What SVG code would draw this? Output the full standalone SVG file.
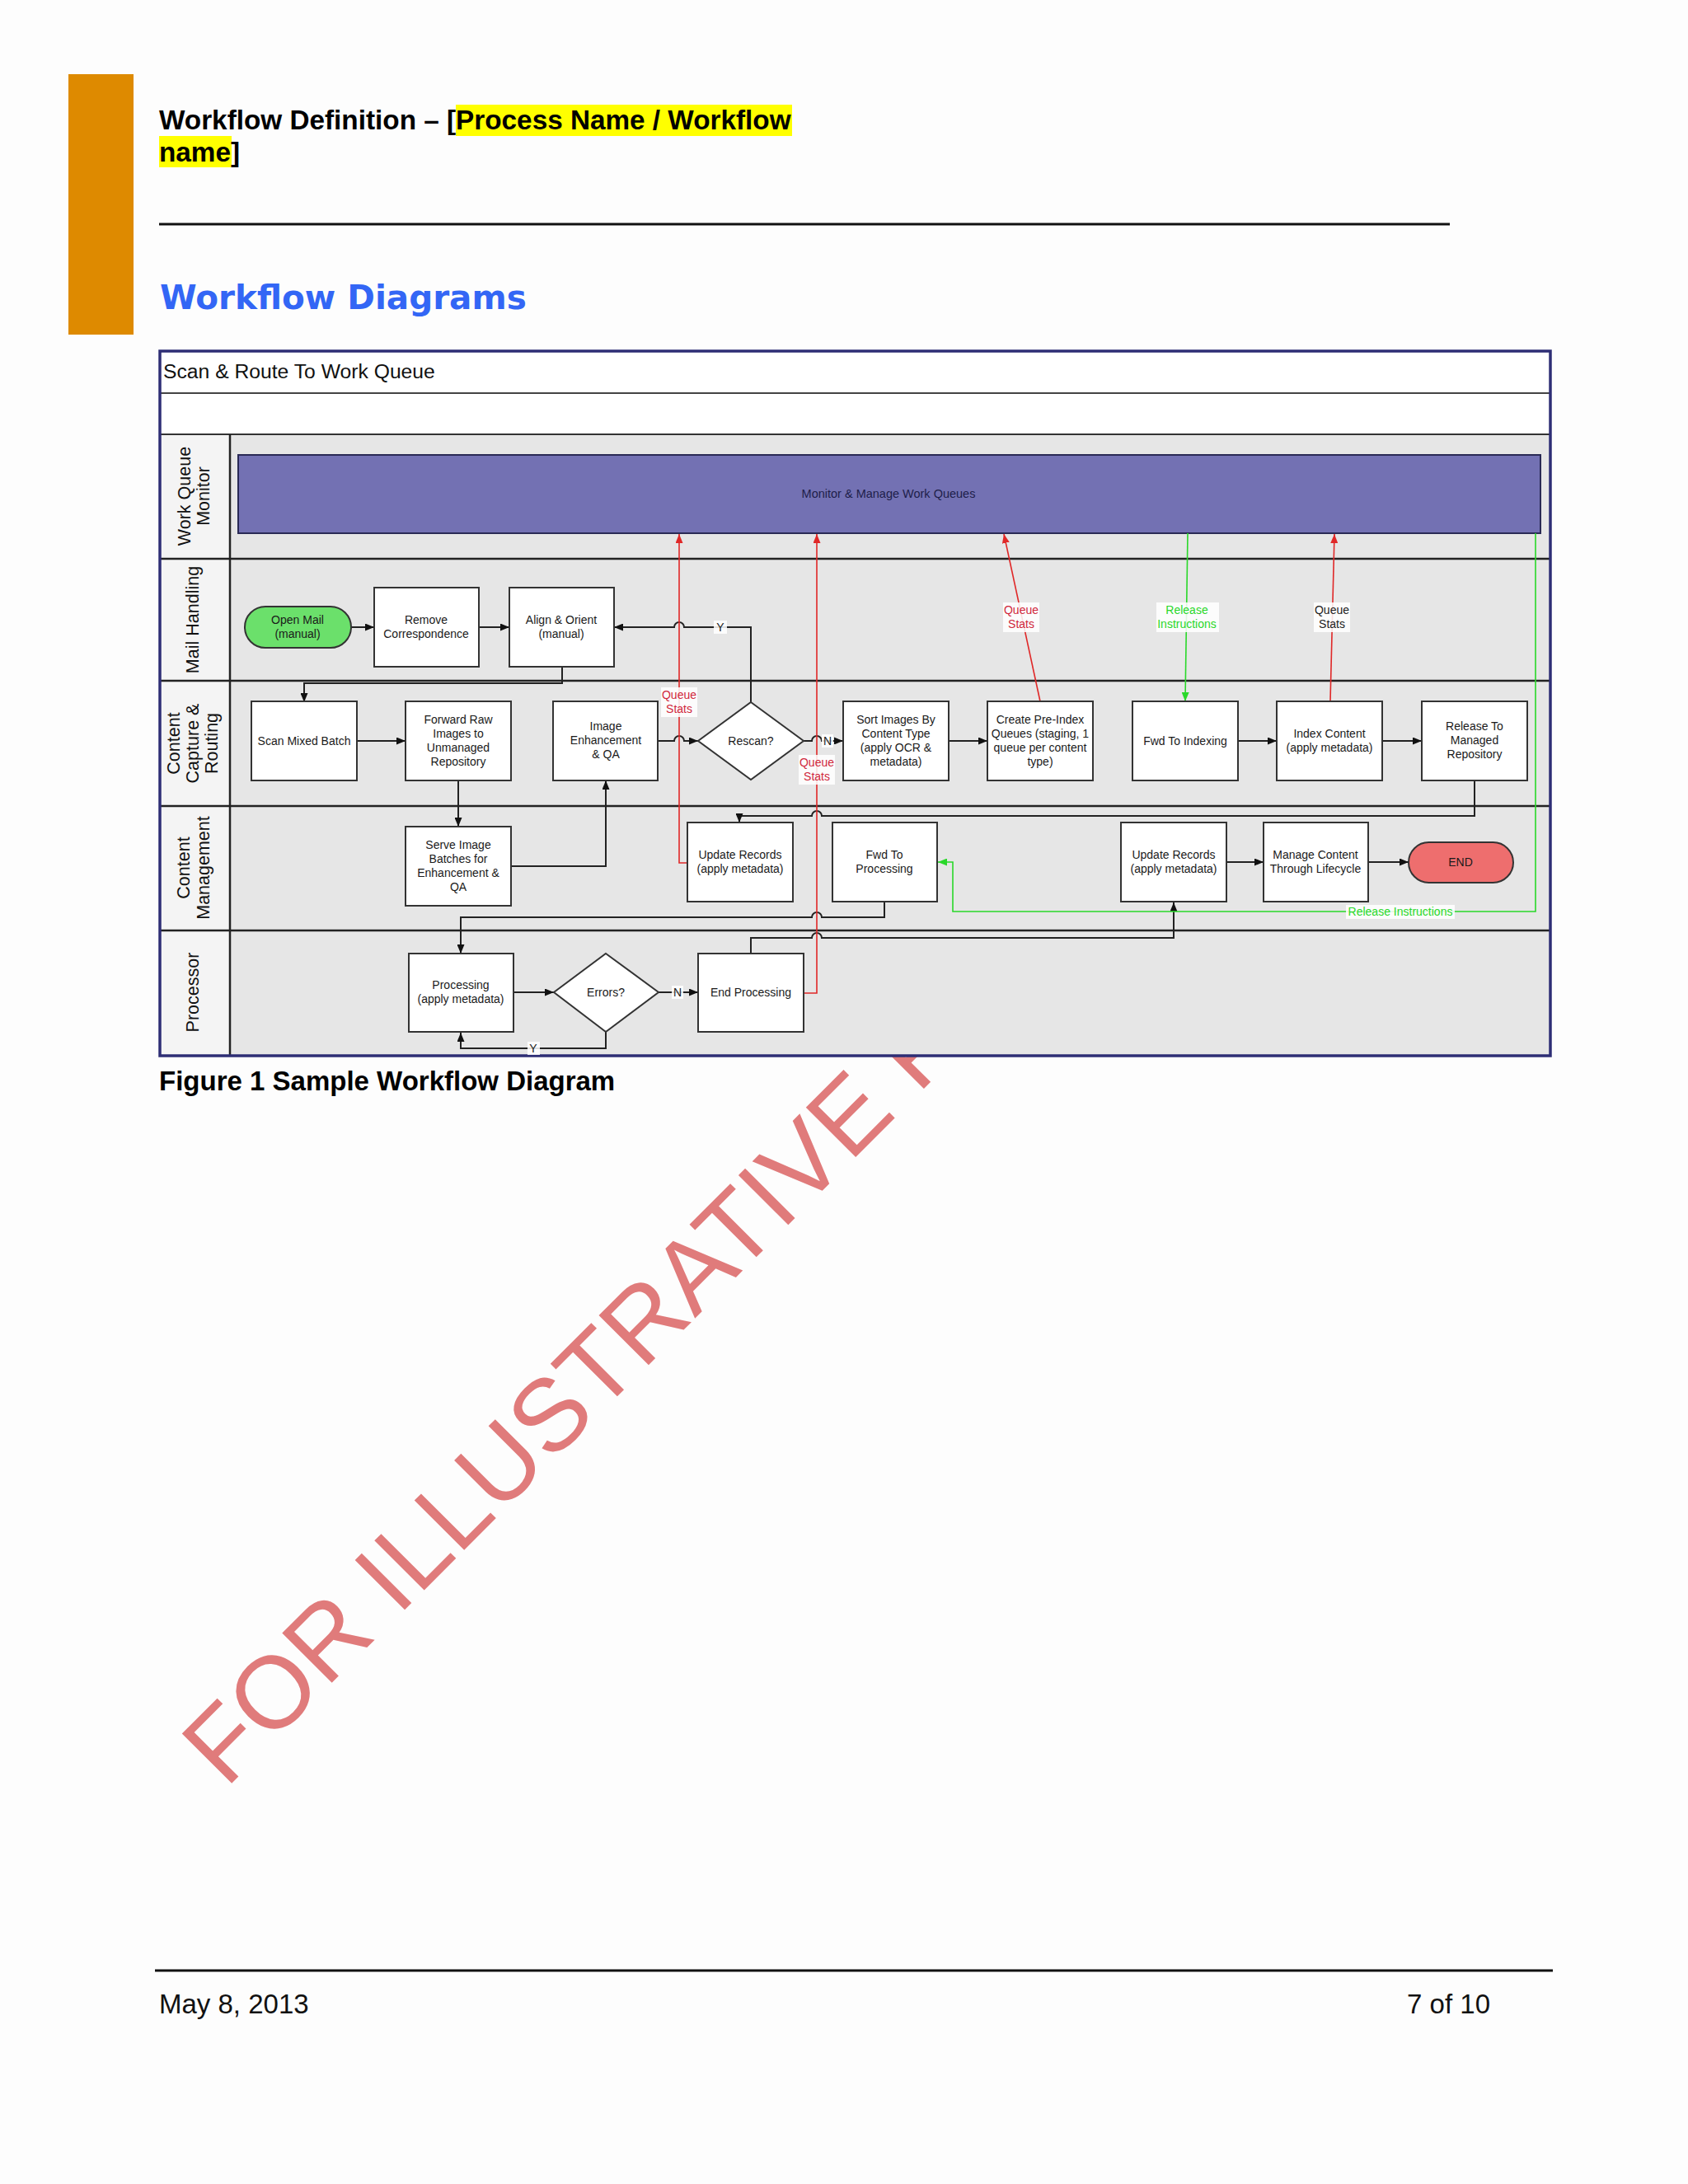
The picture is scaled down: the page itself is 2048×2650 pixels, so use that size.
<svg xmlns="http://www.w3.org/2000/svg" width="2048" height="2650" viewBox="0 0 2048 2650">
<style>
.n{font-family:"Liberation Sans",Arial,sans-serif;font-size:14px;fill:#1a1a1a;text-anchor:middle}
.lane{font-family:"Liberation Sans",Arial,sans-serif;font-size:21.5px;fill:#111;text-anchor:middle}
.box{fill:#fff;stroke:#333;stroke-width:2}
.c{fill:none;stroke:#222;stroke-width:2}
.r{fill:none;stroke:#E02828;stroke-width:1.6}
.g{fill:none;stroke:#2AD82A;stroke-width:1.6}
.rl{font-family:"Liberation Sans",Arial,sans-serif;font-size:14px;fill:#D0283C;text-anchor:middle}
.gl{font-family:"Liberation Sans",Arial,sans-serif;font-size:14px;fill:#2AD82A;text-anchor:middle}
.bl{font-family:"Liberation Sans",Arial,sans-serif;font-size:14px;fill:#222;text-anchor:middle}
.bg{fill:#fff;fill-opacity:0.85}
.sep{stroke:#222;stroke-width:2.5}
</style>
<defs>
<marker id="ab" markerUnits="userSpaceOnUse" markerWidth="11" markerHeight="9" refX="11" refY="4.5" orient="auto"><path d="M0,0 L11,4.5 L0,9 z" fill="#111"/></marker>
<marker id="ar" markerUnits="userSpaceOnUse" markerWidth="11" markerHeight="9" refX="11" refY="4.5" orient="auto"><path d="M0,0 L11,4.5 L0,9 z" fill="#E02828"/></marker>
<marker id="ag" markerUnits="userSpaceOnUse" markerWidth="11" markerHeight="9" refX="11" refY="4.5" orient="auto"><path d="M0,0 L11,4.5 L0,9 z" fill="#2AD82A"/></marker>
</defs>
<rect x="0" y="0" width="2048" height="2650" fill="#fdfdfd"/>

<!-- page header -->
<rect x="83" y="90" width="79" height="316" fill="#DE8A00"/>
<rect x="553" y="127" width="408" height="38" fill="#FFFF00"/>
<rect x="193" y="165" width="88" height="38" fill="#FFFF00"/>
<text x="193" y="157" font-family="'Liberation Sans',Arial,sans-serif" font-size="33.3" font-weight="bold" fill="#000">Workflow Definition – [Process Name / Workflow</text>
<text x="193" y="196" font-family="'Liberation Sans',Arial,sans-serif" font-size="33.3" font-weight="bold" fill="#000">name]</text>
<line x1="193" y1="272" x2="1759" y2="272" stroke="#111" stroke-width="3"/>
<text x="194" y="375" font-family="'DejaVu Sans',Verdana,sans-serif" font-size="40.5" font-weight="bold" fill="#3366F5">Workflow Diagrams</text>

<!-- watermark (behind diagram) -->
<text transform="translate(274,2171) rotate(-45.1)" font-family="'Liberation Sans',Arial,sans-serif" font-size="124" fill="#E07B7B">FOR ILLUSTRATIVE P</text>

<!-- diagram frame and lanes -->
<g id="frame">
<rect x="194" y="426" width="1687" height="855" fill="#fff"/>
<rect x="279" y="527" width="1602" height="753" fill="#E6E6E6"/>
<rect x="196" y="527" width="83" height="753" fill="#F4F4F4"/>
<line x1="194" y1="477" x2="1881" y2="477" stroke="#444" stroke-width="2"/>
<line x1="194" y1="527" x2="1881" y2="527" stroke="#333" stroke-width="2"/>
<line class="sep" x1="194" y1="678" x2="1881" y2="678"/>
<line class="sep" x1="194" y1="826" x2="1881" y2="826"/>
<line class="sep" x1="194" y1="978" x2="1881" y2="978"/>
<line class="sep" x1="194" y1="1129" x2="1881" y2="1129"/>
<line class="sep" x1="279" y1="527" x2="279" y2="1280"/>
<rect x="194" y="426" width="1687" height="855" fill="none" stroke="#2E2E75" stroke-width="3.5"/>
<text x="198" y="459" font-family="'Liberation Sans',Arial,sans-serif" font-size="24.7" fill="#111">Scan &amp; Route To Work Queue</text>
<text class="lane" transform="translate(231,602) rotate(-90)">Work Queue</text>
<text class="lane" transform="translate(254,602) rotate(-90)">Monitor</text>
<text class="lane" transform="translate(241,752) rotate(-90)">Mail Handling</text>
<text class="lane" transform="translate(218,902) rotate(-90)">Content</text>
<text class="lane" transform="translate(241,902) rotate(-90)">Capture &amp;</text>
<text class="lane" transform="translate(264,902) rotate(-90)">Routing</text>
<text class="lane" transform="translate(230,1053) rotate(-90)">Content</text>
<text class="lane" transform="translate(254,1053) rotate(-90)">Management</text>
<text class="lane" transform="translate(241,1204) rotate(-90)">Processor</text>
</g>

<g id="monitor">
<rect x="289" y="552" width="1580" height="95" fill="#7371B3" stroke="#2A2A55" stroke-width="2"/>
<text x="1078" y="604" font-family="'Liberation Sans',Arial,sans-serif" font-size="14.5" fill="#1E1E4A" text-anchor="middle">Monitor &amp; Manage Work Queues</text>
</g>

<!-- connectors -->
<g id="connectors">
<path class="c" d="M426,761 L454,761" marker-end="url(#ab)"/>
<path class="c" d="M581,761 L618,761" marker-end="url(#ab)"/>
<path class="c" d="M911,852 L911,761 L830,761 A6,6 0 0 0 818,761 L745,761" marker-end="url(#ab)"/>
<path class="c" d="M682,809 L682,829 L369,829 L369,852" marker-end="url(#ab)"/>
<path class="c" d="M433,899 L492,899" marker-end="url(#ab)"/>
<path class="c" d="M556,947 L556,1003" marker-end="url(#ab)"/>
<path class="c" d="M620,1051 L735,1051 L735,947" marker-end="url(#ab)"/>
<path class="c" d="M798,899 L818,899 A6,6 0 0 1 830,899 L847,899" marker-end="url(#ab)"/>
<path class="c" d="M975,899 L985,899 A6,6 0 0 1 997,899 L1023,899" marker-end="url(#ab)"/>
<path class="c" d="M1151,899 L1198,899" marker-end="url(#ab)"/>
<path class="c" d="M1502,899 L1549,899" marker-end="url(#ab)"/>
<path class="c" d="M1677,899 L1725,899" marker-end="url(#ab)"/>
<path class="c" d="M1789,947 L1789,990 L997,990 A6,6 0 0 0 985,990 L897,990 L897,998" marker-end="url(#ab)"/>
<path class="c" d="M1488,1046 L1533,1046" marker-end="url(#ab)"/>
<path class="c" d="M1660,1046 L1709,1046" marker-end="url(#ab)"/>
<path class="c" d="M1073,1094 L1073,1113 L997,1113 A6,6 0 0 0 985,1113 L559,1113 L559,1157" marker-end="url(#ab)"/>
<path class="c" d="M911,1157 L911,1138 L985,1138 A6,6 0 0 1 997,1138 L1424,1138 L1424,1095" marker-end="url(#ab)"/>
<path class="c" d="M624,1204 L672,1204" marker-end="url(#ab)"/>
<path class="c" d="M799,1204 L847,1204" marker-end="url(#ab)"/>
<path class="c" d="M735,1252 L735,1272 L559,1272 L559,1253" marker-end="url(#ab)"/>
<!-- queue stats / release instruction flows -->
<path class="r" d="M835,1047 L824,1047 L824,648" marker-end="url(#ar)"/>
<path class="r" d="M975,1205 L991,1205 L991,648" marker-end="url(#ar)"/>
<path class="r" d="M1262,851 L1218,648" marker-end="url(#ar)"/>
<path class="r" d="M1614,851 L1619,648" marker-end="url(#ar)"/>
<path class="g" d="M1441,647 L1438,851" marker-end="url(#ag)"/>
<path class="g" d="M1863,647 L1863,1106 L1156,1106 L1156,1046 L1138,1046" marker-end="url(#ag)"/>
<!-- labels -->
<rect class="bg" x="866" y="753" width="16" height="16"/>
<text class="bl" x="874" y="766">Y</text>
<rect class="bg" x="997" y="891" width="14" height="16"/>
<text class="bl" x="1004" y="904">N</text>
<rect class="bg" x="815" y="1196" width="14" height="16"/>
<text class="bl" x="822" y="1209">N</text>
<rect class="bg" x="640" y="1264" width="15" height="16"/>
<text class="bl" x="647" y="1277">Y</text>
<rect class="bg" x="802" y="834" width="44" height="36"/>
<text class="rl" x="824" y="848">Queue</text>
<text class="rl" x="824" y="865">Stats</text>
<rect class="bg" x="969" y="916" width="44" height="36"/>
<text class="rl" x="991" y="930">Queue</text>
<text class="rl" x="991" y="947">Stats</text>
<rect class="bg" x="1217" y="731" width="44" height="36"/>
<text class="rl" x="1239" y="745">Queue</text>
<text class="rl" x="1239" y="762">Stats</text>
<rect class="bg" x="1403" y="731" width="76" height="36"/>
<text class="gl" x="1440" y="745">Release</text>
<text class="gl" x="1440" y="762">Instructions</text>
<rect class="bg" x="1594" y="731" width="44" height="36"/>
<text class="bl" x="1616" y="745">Queue</text>
<text class="bl" x="1616" y="762">Stats</text>
<rect class="bg" x="1633" y="1098" width="132" height="17"/>
<text class="gl" x="1699" y="1111">Release Instructions</text>
</g>

<!-- nodes -->
<g id="open-mail">
<rect x="297" y="736" width="129" height="50" rx="25" fill="#6BE06B" stroke="#333" stroke-width="2"/>
<text class="n" x="361" y="757">Open Mail</text><text class="n" x="361" y="774">(manual)</text>
</g>
<g id="remove-correspondence">
<rect class="box" x="454" y="713" width="127" height="96"/>
<text class="n" x="517" y="757">Remove</text><text class="n" x="517" y="774">Correspondence</text>
</g>
<g id="align-orient">
<rect class="box" x="618" y="713" width="127" height="96"/>
<text class="n" x="681" y="757">Align &amp; Orient</text><text class="n" x="681" y="774">(manual)</text>
</g>
<g id="scan-mixed-batch">
<rect class="box" x="305" y="851" width="128" height="96"/>
<text class="n" x="369" y="904">Scan Mixed Batch</text>
</g>
<g id="forward-raw">
<rect class="box" x="492" y="851" width="128" height="96"/>
<text class="n" x="556" y="878">Forward Raw</text><text class="n" x="556" y="895">Images to</text><text class="n" x="556" y="912">Unmanaged</text><text class="n" x="556" y="929">Repository</text>
</g>
<g id="image-enhancement">
<rect class="box" x="671" y="851" width="127" height="96"/>
<text class="n" x="735" y="886">Image</text><text class="n" x="735" y="903">Enhancement</text><text class="n" x="735" y="920">&amp; QA</text>
</g>
<g id="rescan">
<polygon points="911,852 975,899 911,946 847,899" fill="#fff" stroke="#333" stroke-width="2"/>
<text class="n" x="911" y="904">Rescan?</text>
</g>
<g id="sort-images">
<rect class="box" x="1023" y="851" width="128" height="96"/>
<text class="n" x="1087" y="878">Sort Images By</text><text class="n" x="1087" y="895">Content Type</text><text class="n" x="1087" y="912">(apply OCR &amp;</text><text class="n" x="1087" y="929">metadata)</text>
</g>
<g id="create-pre-index">
<rect class="box" x="1198" y="851" width="128" height="96"/>
<text class="n" x="1262" y="878">Create Pre-Index</text><text class="n" x="1262" y="895">Queues (staging, 1</text><text class="n" x="1262" y="912">queue per content</text><text class="n" x="1262" y="929">type)</text>
</g>
<g id="fwd-to-indexing">
<rect class="box" x="1374" y="851" width="128" height="96"/>
<text class="n" x="1438" y="904">Fwd To Indexing</text>
</g>
<g id="index-content">
<rect class="box" x="1549" y="851" width="128" height="96"/>
<text class="n" x="1613" y="895">Index Content</text><text class="n" x="1613" y="912">(apply metadata)</text>
</g>
<g id="release-managed">
<rect class="box" x="1725" y="851" width="128" height="96"/>
<text class="n" x="1789" y="886">Release To</text><text class="n" x="1789" y="903">Managed</text><text class="n" x="1789" y="920">Repository</text>
</g>
<g id="serve-image">
<rect class="box" x="492" y="1003" width="128" height="96"/>
<text class="n" x="556" y="1030">Serve Image</text><text class="n" x="556" y="1047">Batches for</text><text class="n" x="556" y="1064">Enhancement &amp;</text><text class="n" x="556" y="1081">QA</text>
</g>
<g id="update-records-1">
<rect class="box" x="834" y="998" width="128" height="96"/>
<text class="n" x="898" y="1042">Update Records</text><text class="n" x="898" y="1059">(apply metadata)</text>
</g>
<g id="fwd-to-processing">
<rect class="box" x="1010" y="998" width="127" height="96"/>
<text class="n" x="1073" y="1042">Fwd To</text><text class="n" x="1073" y="1059">Processing</text>
</g>
<g id="update-records-2">
<rect class="box" x="1360" y="998" width="128" height="96"/>
<text class="n" x="1424" y="1042">Update Records</text><text class="n" x="1424" y="1059">(apply metadata)</text>
</g>
<g id="manage-content">
<rect class="box" x="1533" y="998" width="127" height="96"/>
<text class="n" x="1596" y="1042">Manage Content</text><text class="n" x="1596" y="1059">Through Lifecycle</text>
</g>
<g id="end">
<rect x="1709" y="1022" width="127" height="49" rx="24.5" fill="#EE6E6E" stroke="#333" stroke-width="2"/>
<text class="n" x="1772" y="1051">END</text>
</g>
<g id="processing">
<rect class="box" x="496" y="1157" width="127" height="95"/>
<text class="n" x="559" y="1200">Processing</text><text class="n" x="559" y="1217">(apply metadata)</text>
</g>
<g id="errors">
<polygon points="735,1157 799,1204 735,1252 672,1204" fill="#fff" stroke="#333" stroke-width="2"/>
<text class="n" x="735" y="1209">Errors?</text>
</g>
<g id="end-processing">
<rect class="box" x="847" y="1157" width="128" height="95"/>
<text class="n" x="911" y="1209">End Processing</text>
</g>

<!-- caption and footer -->
<text x="193" y="1323" font-family="'Liberation Sans',Arial,sans-serif" font-size="33" font-weight="bold" fill="#000">Figure 1 Sample Workflow Diagram</text>
<line x1="188" y1="2391" x2="1884" y2="2391" stroke="#111" stroke-width="3"/>
<text x="193" y="2443" font-family="'Liberation Sans',Arial,sans-serif" font-size="33" fill="#111">May 8, 2013</text>
<text x="1808" y="2443" font-family="'Liberation Sans',Arial,sans-serif" font-size="33" fill="#111" text-anchor="end">7 of 10</text>
</svg>
